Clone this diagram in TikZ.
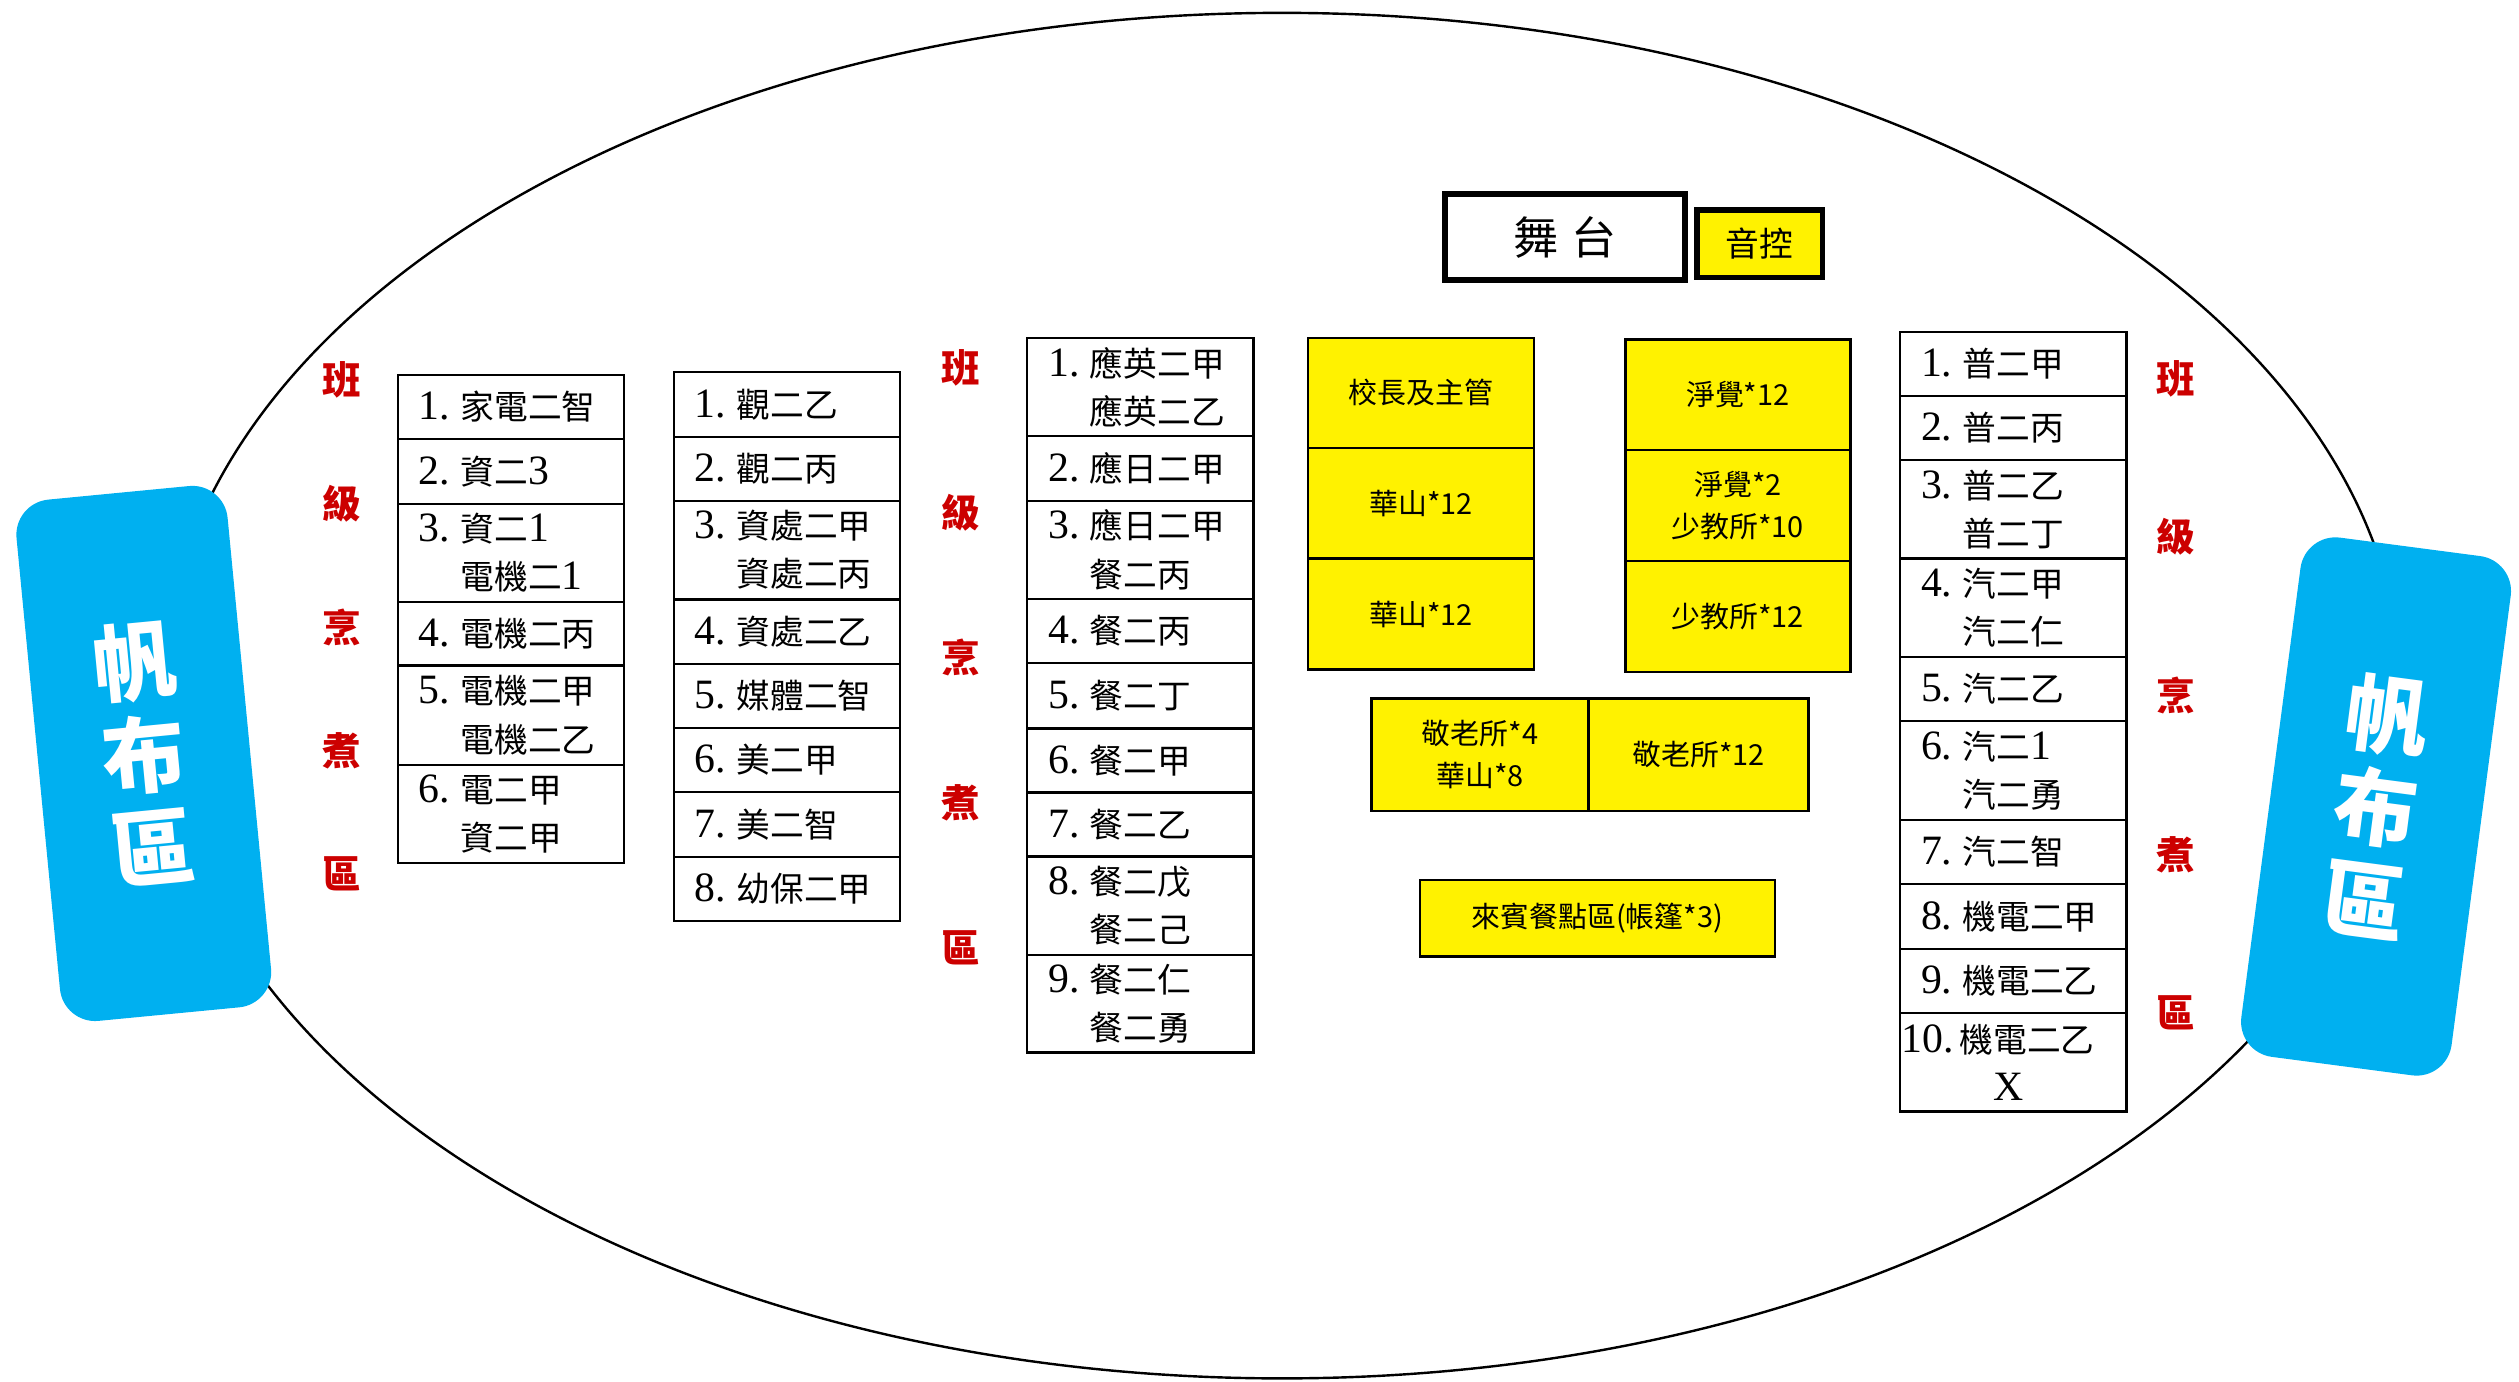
\documentclass[tikz,border=0pt]{standalone}
\usepackage{fontspec}
\newfontfamily\cjk{Noto Sans CJK TC}
\newfontfamily\numfont{Liberation Serif}
\definecolor{sailblue}{HTML}{00B0F0}
\definecolor{cookred}{HTML}{CC0000}
\newcommand{\dg}[1]{{\numfont\fontsize{26}{30}\selectfont #1}}
\newcommand{\nb}[1]{\makebox[26pt][l]{\dg{#1}}}
\tikzset{
  cell/.style={draw, line width=1.5pt, anchor=north west, inner xsep=13pt, inner ysep=0pt,
    text width=114.8pt, align=left, font=\cjk\fontsize{21}{30}\selectfont},
  seat/.style={draw, line width=1.5pt, fill=yellow, anchor=north west, inner sep=0pt,
    align=center, font=\cjk\fontsize{18}{26}\selectfont},
  sail/.style={fill=sailblue, rounded corners=22pt, minimum width=132pt, minimum height=326pt,
    inner sep=0pt, text=white, align=center, font=\cjk\bfseries\fontsize{52}{58}\selectfont},
  cook/.style={text=cookred, inner sep=0pt, font=\cjk\bfseries\fontsize{24}{24}\selectfont}
}
\begin{document}
\begin{tikzpicture}[x=1pt,y=-1pt]
\useasboundingbox (0,0) rectangle (1568,860);
\draw[line width=1.5pt] (798,433) ellipse [x radius=697pt, y radius=425pt];

\node[sail, rotate=5.5] (sailL) at (89.5,469) {帆\\布\\區};
\node[sail, rotate=-7.5] (sailR) at (1479,502) {帆\\布\\區};

\foreach \c [count=\i] in {班,級,烹,煮,區} {
  \node[cook] (ra\i) at (213,{159.9+76.8*\i}) {\c};
  \node[cook] (rb\i) at (598,{138.75+90.25*\i}) {\c};
  \node[cook] (rc\i) at (1354.5,{137+98.7*\i}) {\c};
}

\foreach \t/\h/\txt [count=\i] in {
  232.5/40/{\nb{1.}家電二智},
  272.5/40.5/{\nb{2.}資二\dg{3}},
  313/61/{\nb{3.}資二\dg{1}\\\nb{}電機二\dg{1}},
  374/39.5/{\nb{4.}電機二丙},
  413.5/62/{\nb{5.}電機二甲\\\nb{}電機二乙},
  475.5/61/{\nb{6.}電二甲\\\nb{}資二甲}}
  \node[cell, minimum height=\h pt] (a\i) at (247,\t) {\txt};

\foreach \t/\h/\txt [count=\i] in {
  230.8/40.5/{\nb{1.}觀二乙},
  271.3/39.7/{\nb{2.}觀二丙},
  311/61.3/{\nb{3.}資處二甲\\\nb{}資處二丙},
  372.3/40.3/{\nb{4.}資處二乙},
  412.6/39.8/{\nb{5.}媒體二智},
  452.4/40/{\nb{6.}美二甲},
  492.4/40.3/{\nb{7.}美二智},
  532.7/39.8/{\nb{8.}幼保二甲}}
  \node[cell, minimum height=\h pt] (b\i) at (418.8,\t) {\txt};

\foreach \t/\h/\txt [count=\i] in {
  209.8/60.8/{\nb{1.}應英二甲\\\nb{}應英二乙},
  270.6/40.4/{\nb{2.}應日二甲},
  311/61/{\nb{3.}應日二甲\\\nb{}餐二丙},
  372/40/{\nb{4.}餐二丙},
  412/40.6/{\nb{5.}餐二丁},
  452.6/39.9/{\nb{6.}餐二甲},
  492.5/40/{\nb{7.}餐二乙},
  532.5/61.1/{\nb{8.}餐二戊\\\nb{}餐二己},
  593.6/60.9/{\nb{9.}餐二仁\\\nb{}餐二勇}}
  \node[cell, minimum height=\h pt] (c\i) at (638.7,\t) {\txt};

\foreach \t/\h/\txt [count=\i] in {
  206/39.8/{\nb{1.}普二甲},
  245.8/39.8/{\nb{2.}普二丙},
  285.6/61.4/{\nb{3.}普二乙\\\nb{}普二丁},
  347/61.3/{\nb{4.}汽二甲\\\nb{}汽二仁},
  408.3/39.9/{\nb{5.}汽二乙},
  448.2/61.4/{\nb{6.}汽二\dg{1}\\\nb{}汽二勇},
  509.6/39.8/{\nb{7.}汽二智},
  549.4/40.6/{\nb{8.}機電二甲},
  590/39.7/{\nb{9.}機電二乙},
  629.7/61.4/{\hspace*{-12pt}\dg{10.}\,機電二乙\\\hspace*{45pt}\dg{X}}}
  \node[cell, minimum height=\h pt] (d\i) at (1182,\t) {\txt};

\node[draw, line width=3.5pt, anchor=north west, minimum width=149.4pt, minimum height=53.6pt,
  font=\cjk\fontsize{28}{28}\selectfont] (stage) at (897.6,119) {舞\hspace{8pt}台};
\node[draw, line width=3.5pt, fill=yellow, anchor=north west, minimum width=78pt, minimum height=42pt,
  font=\cjk\fontsize{21}{21}\selectfont] (audio) at (1054.6,129) {音控};

\node[seat, minimum width=140.4pt, minimum height=68.5pt] (boss) at (813.6,209.5) {校長及主管};
\node[seat, minimum width=140.4pt, minimum height=69pt] (hs1) at (813.6,278) {華山*12};
\node[seat, minimum width=140.4pt, minimum height=69pt] (hs2) at (813.6,347) {華山*12};
\node[seat, minimum width=140pt, minimum height=69pt] (jj1) at (1011,210.5) {淨覺*12};
\node[seat, minimum width=140pt, minimum height=69pt] (jj2) at (1011,279.5) {淨覺*2\\少教所*10};
\node[seat, minimum width=140pt, minimum height=69pt] (sj) at (1011,348.6) {少教所*12};
\node[seat, minimum width=135pt, minimum height=70pt] (jl1) at (853,434) {敬老所*4\\華山*8};
\node[seat, minimum width=137pt, minimum height=70pt] (jl2) at (988,434) {敬老所*12};
\node[seat, minimum width=221pt, minimum height=47.7pt] (guest) at (883,547) {來賓餐點區(帳篷*3)};
\end{tikzpicture}
\end{document}
